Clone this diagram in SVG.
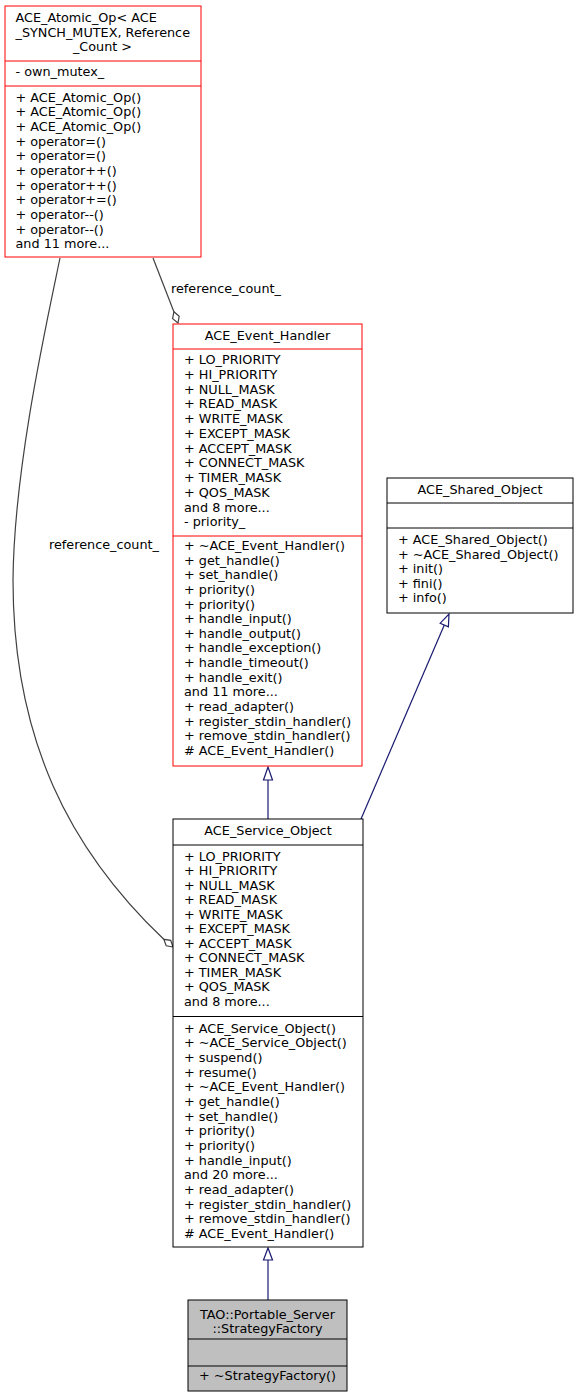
<svg xmlns="http://www.w3.org/2000/svg" width="577" height="1397" viewBox="0 0 577 1397">
<style>
text{font-family:"DejaVu Sans","Liberation Sans",sans-serif;font-size:12.8px;fill:#000}
.c{text-anchor:middle}
.box{fill:#fff;stroke:#000;stroke-width:1}
.red{fill:#fff;stroke:#ff0000;stroke-width:1}
.gray{fill:#bfbfbf;stroke:#000;stroke-width:1}
.divb{stroke:#000;stroke-width:1}
.divr{stroke:#ff0000;stroke-width:1}
.agg{fill:none;stroke:#404040;stroke-width:1.2}
.inh{fill:none;stroke:#191970;stroke-width:1.2}
.inhh{fill:#fff;stroke:#191970;stroke-width:1.2}
.aggh{fill:#fff;stroke:#404040;stroke-width:1.2}
</style>
<rect width="577" height="1397" fill="#fff"/>
<g id="connectors">
<path class="agg" d="M153,258 L173.9,311.7"/>
<polygon class="aggh" points="178,323 172.6,318.6 173.9,311.7 179.2,316.2"/>
<text x="171" y="293">reference_count_</text>
<path class="agg" d="M60,258 C45,330 14,470 13,580 C13,740 70,850 163.8,939.3"/>
<polygon class="aggh" points="173,947 166.2,945.8 163.8,939.3 170.7,940.4"/>
<text x="49" y="549">reference_count_</text>
<path class="inh" d="M268,819 L268,780"/>
<polygon class="inhh" points="268,767 263.5,780 272.5,780"/>
<path class="inh" d="M361,819 L444.3,625"/>
<polygon class="inhh" points="449,614 448.4,626.8 440.2,623.2"/>
<path class="inh" d="M268,1300 L268,1260"/>
<polygon class="inhh" points="268,1248 263.5,1260 272.5,1260"/>
</g>
<g id="ACE_Atomic_Op">
<rect class="red" x="5" y="6" width="196" height="251"/>
<line class="divr" x1="5" y1="61" x2="201" y2="61"/>
<line class="divr" x1="5" y1="86" x2="201" y2="86"/>
<text x="15.5" y="22">ACE_Atomic_Op&lt; ACE</text>
<text x="15.5" y="36.5">_SYNCH_MUTEX, Reference</text>
<text class="c" x="102.5" y="51">_Count &gt;</text>
<text x="15.5" y="76">- own_mutex_</text>
<text x="15.5" y="101.7">+ ACE_Atomic_Op()<tspan x="15.5" dy="14.66">+ ACE_Atomic_Op()</tspan><tspan x="15.5" dy="14.66">+ ACE_Atomic_Op()</tspan><tspan x="15.5" dy="14.66">+ operator=()</tspan><tspan x="15.5" dy="14.66">+ operator=()</tspan><tspan x="15.5" dy="14.66">+ operator++()</tspan><tspan x="15.5" dy="14.66">+ operator++()</tspan><tspan x="15.5" dy="14.66">+ operator+=()</tspan><tspan x="15.5" dy="14.66">+ operator--()</tspan><tspan x="15.5" dy="14.66">+ operator--()</tspan><tspan x="15.5" dy="14.66">and 11 more...</tspan></text>
</g>
<g id="ACE_Event_Handler">
<rect class="red" x="173" y="324" width="189" height="442"/>
<line class="divr" x1="173" y1="349" x2="362" y2="349"/>
<line class="divr" x1="173" y1="536" x2="362" y2="536"/>
<text class="c" x="267.5" y="340">ACE_Event_Handler</text>
<text x="184" y="364">+ LO_PRIORITY<tspan x="184" dy="14.75">+ HI_PRIORITY</tspan><tspan x="184" dy="14.75">+ NULL_MASK</tspan><tspan x="184" dy="14.75">+ READ_MASK</tspan><tspan x="184" dy="14.75">+ WRITE_MASK</tspan><tspan x="184" dy="14.75">+ EXCEPT_MASK</tspan><tspan x="184" dy="14.75">+ ACCEPT_MASK</tspan><tspan x="184" dy="14.75">+ CONNECT_MASK</tspan><tspan x="184" dy="14.75">+ TIMER_MASK</tspan><tspan x="184" dy="14.75">+ QOS_MASK</tspan><tspan x="184" dy="14.75">and 8 more...</tspan><tspan x="184" dy="14.75">- priority_</tspan></text>
<text x="184" y="550">+ ~ACE_Event_Handler()<tspan x="184" dy="14.64">+ get_handle()</tspan><tspan x="184" dy="14.64">+ set_handle()</tspan><tspan x="184" dy="14.64">+ priority()</tspan><tspan x="184" dy="14.64">+ priority()</tspan><tspan x="184" dy="14.64">+ handle_input()</tspan><tspan x="184" dy="14.64">+ handle_output()</tspan><tspan x="184" dy="14.64">+ handle_exception()</tspan><tspan x="184" dy="14.64">+ handle_timeout()</tspan><tspan x="184" dy="14.64">+ handle_exit()</tspan><tspan x="184" dy="14.64">and 11 more...</tspan><tspan x="184" dy="14.64">+ read_adapter()</tspan><tspan x="184" dy="14.64">+ register_stdin_handler()</tspan><tspan x="184" dy="14.64">+ remove_stdin_handler()</tspan><tspan x="184" dy="14.64"># ACE_Event_Handler()</tspan></text>
</g>
<g id="ACE_Shared_Object">
<rect class="box" x="387" y="478" width="186" height="135"/>
<line class="divb" x1="387" y1="503" x2="573" y2="503"/>
<line class="divb" x1="387" y1="528" x2="573" y2="528"/>
<text class="c" x="480" y="494">ACE_Shared_Object</text>
<text x="398" y="544">+ ACE_Shared_Object()<tspan x="398" dy="14.6">+ ~ACE_Shared_Object()</tspan><tspan x="398" dy="14.6">+ init()</tspan><tspan x="398" dy="14.6">+ fini()</tspan><tspan x="398" dy="14.6">+ info()</tspan></text>
</g>
<g id="ACE_Service_Object">
<rect class="box" x="173" y="819" width="190" height="428"/>
<line class="divb" x1="173" y1="845" x2="363" y2="845"/>
<line class="divb" x1="173" y1="1016.5" x2="363" y2="1016.5"/>
<text class="c" x="268" y="835">ACE_Service_Object</text>
<text x="184" y="860.7">+ LO_PRIORITY<tspan x="184" dy="14.53">+ HI_PRIORITY</tspan><tspan x="184" dy="14.53">+ NULL_MASK</tspan><tspan x="184" dy="14.53">+ READ_MASK</tspan><tspan x="184" dy="14.53">+ WRITE_MASK</tspan><tspan x="184" dy="14.53">+ EXCEPT_MASK</tspan><tspan x="184" dy="14.53">+ ACCEPT_MASK</tspan><tspan x="184" dy="14.53">+ CONNECT_MASK</tspan><tspan x="184" dy="14.53">+ TIMER_MASK</tspan><tspan x="184" dy="14.53">+ QOS_MASK</tspan><tspan x="184" dy="14.53">and 8 more...</tspan></text>
<text x="184" y="1032.5">+ ACE_Service_Object()<tspan x="184" dy="14.67">+ ~ACE_Service_Object()</tspan><tspan x="184" dy="14.67">+ suspend()</tspan><tspan x="184" dy="14.67">+ resume()</tspan><tspan x="184" dy="14.67">+ ~ACE_Event_Handler()</tspan><tspan x="184" dy="14.67">+ get_handle()</tspan><tspan x="184" dy="14.67">+ set_handle()</tspan><tspan x="184" dy="14.67">+ priority()</tspan><tspan x="184" dy="14.67">+ priority()</tspan><tspan x="184" dy="14.67">+ handle_input()</tspan><tspan x="184" dy="14.67">and 20 more...</tspan><tspan x="184" dy="14.67">+ read_adapter()</tspan><tspan x="184" dy="14.67">+ register_stdin_handler()</tspan><tspan x="184" dy="14.67">+ remove_stdin_handler()</tspan><tspan x="184" dy="14.67"># ACE_Event_Handler()</tspan></text>
</g>
<g id="StrategyFactory">
<rect class="gray" x="188" y="1300" width="159" height="91"/>
<line class="divb" x1="188" y1="1339" x2="347" y2="1339"/>
<line class="divb" x1="188" y1="1366" x2="347" y2="1366"/>
<text class="c" x="267.5" y="1318.5">TAO::Portable_Server</text>
<text class="c" x="267.5" y="1332.5">::StrategyFactory</text>
<text x="199" y="1380">+ ~StrategyFactory()</text>
</g>
</svg>
